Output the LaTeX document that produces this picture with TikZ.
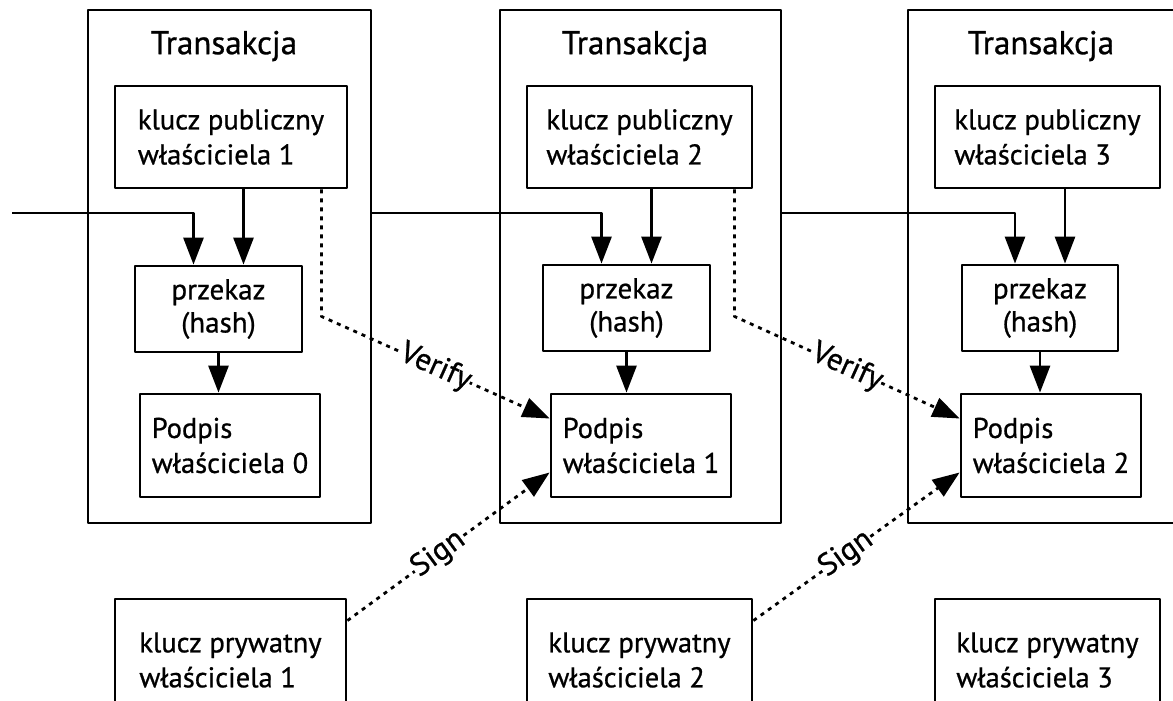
\documentclass[tikz,border=0pt]{standalone}
\usepackage{fontspec}
\setmainfont{PT Sans}[FakeBold=0.8]
\usetikzlibrary{arrows.meta,positioning,calc}

\begin{document}
\begin{tikzpicture}[
    x=1pt, y=-1pt,
    >={Triangle[length=27pt,width=20pt]},
    line join=round,
    box/.style={draw, line width=2.8pt, inner sep=0pt, align=left,
        font=\fontsize{28.5}{35}\selectfont},
    hashbox/.style={box, align=center, font=\fontsize{29}{33}\selectfont},
    txbox/.style={draw, line width=2.4pt, inner sep=0pt},
    title/.style={font=\fontsize{33}{35}\selectfont},
    link/.style={->, line width=2.8pt},
    dotlink/.style={->, line width=2.8pt, dash pattern=on 4pt off 5pt},
    lbl/.style={sloped, fill=white, inner sep=0pt, font=\fontsize{31}{31}\selectfont}
]

% --- Frame ---
\useasboundingbox (0,0) rectangle (1173,701);
\clip (0,0) rectangle (1173,701);

% --- Transaction frames ---
\node[txbox, minimum width=283pt, minimum height=513pt] (tx1) at (229.5,266.5) {};
\node[txbox, minimum width=281pt, minimum height=513pt] (tx2) at (640.5,266.5) {};
\node[txbox, minimum width=290pt, minimum height=513pt] (tx3) at (1053,266.5) {};

\node[title] (ttl1) at (224,46) {Transakcja};
\node[title] (ttl2) at (635,46) {Transakcja};
\node[title] (ttl3) at (1041,46) {Transakcja};

% --- Public keys ---
\node[box, minimum width=232pt, minimum height=102pt] (pub1) at (231,137) {klucz publiczny\\właściciela 1};
\node[box, minimum width=225pt, minimum height=102pt] (pub2) at (639.5,137) {klucz publiczny\\właściciela 2};
\node[box, minimum width=225pt, minimum height=102pt] (pub3) at (1047.5,137) {klucz publiczny\\właściciela 3};

% --- Hashes ---
\node[hashbox, minimum width=167pt, minimum height=86pt] (hash1) at (218.5,309) {przekaz\\(hash)};
\node[hashbox, minimum width=167pt, minimum height=86pt] (hash2) at (626.5,308) {przekaz\\(hash)};
\node[hashbox, minimum width=156pt, minimum height=86pt] (hash3) at (1040,308) {przekaz\\(hash)};

% --- Signatures ---
\node[box, minimum width=180pt, minimum height=103pt] (sig1) at (230,445.5) {Podpis\\właściciela 0};
\node[box, minimum width=180pt, minimum height=103pt] (sig2) at (641,445.5) {Podpis\\właściciela 1};
\node[box, minimum width=180pt, minimum height=103pt] (sig3) at (1051,445.5) {Podpis\\właściciela 2};

% --- Private keys (cut by the lower edge) ---
\node[box, minimum width=231pt, minimum height=122pt] (priv1) at (230.5,660) {klucz prywatny\\właściciela 1};
\node[box, minimum width=225pt, minimum height=122pt] (priv2) at (639.5,660) {klucz prywatny\\właściciela 2};
\node[box, minimum width=225pt, minimum height=122pt] (priv3) at (1047.5,660) {klucz prywatny\\właściciela 3};

% --- Chain of previous transactions ---
\coordinate (in1) at (12,213);
\draw[link] (in1) -| ([xshift=-25pt]hash1.north);
\draw[link] (tx1.east |- in1) -| ([xshift=-25pt]hash2.north);
\draw[link] (tx2.east |- in1) -| ([xshift=-25pt]hash3.north);

% --- Key -> hash -> signature ---
\draw[link] ([xshift=25pt]hash1.north |- pub1.south) -- ([xshift=25pt]hash1.north);
\draw[link] ([xshift=25pt]hash2.north |- pub2.south) -- ([xshift=25pt]hash2.north);
\draw[link] ([xshift=25pt]hash3.north |- pub3.south) -- ([xshift=25pt]hash3.north);

\draw[link] (hash1.south) -- (hash1.south |- sig1.north);
\draw[link] (hash2.south) -- (hash2.south |- sig2.north);
\draw[link] (hash3.south) -- (hash3.south |- sig3.north);

% --- Verify ---
\draw[dotlink] ([xshift=-27pt]pub1.south east) -- ++(0,127)
    -- node[lbl, pos=0.5] {Verify} ([yshift=27pt]sig2.west);
\draw[dotlink] ([xshift=-19pt]pub2.south east) -- ++(0,127)
    -- node[lbl, pos=0.5] {Verify} ([yshift=27pt]sig3.west);

% --- Sign ---
\draw[dotlink] ([yshift=-23pt]priv1.north east)
    -- node[lbl, pos=0.45] {Sign} ([yshift=-27pt]sig2.west);
\draw[dotlink] ([yshift=-23pt]priv2.north east)
    -- node[lbl, pos=0.45] {Sign} ([yshift=-27pt]sig3.west);

\end{tikzpicture}
\end{document}
